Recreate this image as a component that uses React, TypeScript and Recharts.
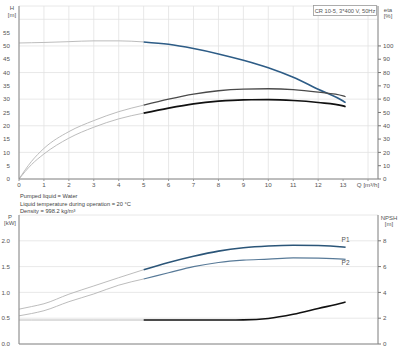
import React from "react";
import {
  ComposedChart,
  Line,
  XAxis,
  YAxis,
  CartesianGrid,
  LabelList,
} from "recharts";

// Flow points (m³/h) shared by every curve
const Q = [0, 0.5, 1, 2, 3, 4, 5, 6, 7, 8, 9, 10, 11, 12, 13, 13.1];
// Head H [m]
const H = [51.1, 51.2, 51.3, 51.6, 51.9, 51.9, 51.5, 50.6, 49.0, 47.0, 44.6, 41.8, 38.2, 33.7, 29.3, 28.7];
// Efficiencies [%]
const ETA1 = [0, 13.2, 23, 35.6, 43.9, 50.6, 55.5, 60, 63.8, 66.3, 67.5, 67.8, 67.2, 65.3, 62.5, 61.8];
const ETA2 = [0, 10.8, 18.8, 30.7, 38.9, 45.2, 49.5, 53.3, 56.5, 58.5, 59.5, 59.6, 59, 57.5, 55, 54.3];
// Power [kW]
const P1 = [0.675, 0.725, 0.78, 0.965, 1.125, 1.285, 1.44, 1.58, 1.7, 1.8, 1.865, 1.9, 1.915, 1.91, 1.88, 1.875];
const P2 = [0.546, 0.59, 0.645, 0.82, 0.97, 1.14, 1.26, 1.38, 1.5, 1.58, 1.625, 1.645, 1.67, 1.665, 1.645, 1.64];
// NPSH [m]
const NPSH = [1.86, 1.86, 1.86, 1.86, 1.86, 1.86, 1.86, 1.86, 1.86, 1.86, 1.87, 1.98, 2.3, 2.75, 3.2, 3.25];

const Q_TICKS = [0, 1, 2, 3, 4, 5, 6, 7, 8, 9, 10, 11, 12, 13, 14];
const H_TICKS = [0, 5, 10, 15, 20, 25, 30, 35, 40, 45, 50, 55, 60, 65];
const ETA_TICKS = [0, 10, 20, 30, 40, 50, 60, 70, 80, 90, 100];
const P_TICKS = [0, 0.5, 1, 1.5, 2, 2.5];
const NPSH_TICKS = [0, 2, 4, 6, 8];

const SPLIT = 5; // curves are only drawn in colour from here on

const split = (vals: number[]) => ({
  gray: Q.map((q, i) => (q <= SPLIT ? vals[i] : undefined)),
  col: Q.map((q, i) => (q >= SPLIT ? vals[i] : undefined)),
});

const s = { h: split(H), e1: split(ETA1), e2: split(ETA2), p1: split(P1), p2: split(P2), n: split(NPSH) };

const data = Q.map((q, i) => ({
  q,
  hGray: s.h.gray[i],
  hCol: s.h.col[i],
  e1Gray: s.e1.gray[i],
  e1Col: s.e1.col[i],
  e2Gray: s.e2.gray[i],
  e2Col: s.e2.col[i],
  p1Gray: s.p1.gray[i],
  p1Col: s.p1.col[i],
  p2Gray: s.p2.gray[i],
  p2Col: s.p2.col[i],
  nGray: s.n.gray[i],
  nCol: s.n.col[i],
}));

const FONT = "'Liberation Sans', Arial, sans-serif";
const TICK = { fill: "#555", fontSize: 6.2, fontFamily: FONT };
const AXIS = { stroke: "#888" };
const GRID = "#e2e2e2";
const GRAY = "#b4b4b4";
const LAST = Q.length - 1;

const endLabel = (text: string, dy: number) => (props: any) => {
  if (props.index !== LAST) return null;
  return (
    <text x={props.x} y={props.y + dy} fill="#555" fontSize={6.5} fontFamily={FONT} textAnchor="middle">
      {text}
    </text>
  );
};

const grayLine = (key: string, axis: string) => (
  <Line
    key={key}
    yAxisId={axis}
    dataKey={key}
    type="monotone"
    stroke={GRAY}
    strokeWidth={0.9}
    dot={false}
    isAnimationActive={false}
  />
);

export default function App() {
  return (
    <div style={{ position: "fixed", left: 0, top: 0, width: 400, height: 358, background: "#fff", fontFamily: FONT }}>
      {/* Q-H / efficiency */}
      <div style={{ position: "absolute", left: 0, top: 0 }}>
        <ComposedChart width={400} height={195} data={data} margin={{ top: 6, right: 0, bottom: 0, left: 0 }}>
          <CartesianGrid yAxisId="h" stroke={GRID} strokeWidth={0.8} />
          <XAxis
            dataKey="q"
            type="number"
            domain={[0, 14.4]}
            ticks={Q_TICKS}
            allowDataOverflow
            height={16}
            tick={TICK}
            tickSize={2}
            tickLine={{ stroke: "#999" }}
            axisLine={AXIS}
            tickFormatter={(v: number) => (v === 14 ? "Q [m³/h]" : String(v))}
          />
          <YAxis
            yAxisId="h"
            domain={[0, 65]}
            ticks={H_TICKS}
            width={19}
            tick={TICK}
            tickLine={false}
            tickMargin={3}
            axisLine={AXIS}
            tickFormatter={(v: number) => (v > 55 ? "" : String(v))}
          />
          <YAxis
            yAxisId="eta"
            orientation="right"
            domain={[0, 130]}
            ticks={ETA_TICKS}
            width={22}
            tick={TICK}
            tickSize={3}
            tickMargin={2}
            tickLine={{ stroke: "#777" }}
            axisLine={AXIS}
          />
          {grayLine("hGray", "h")}
          {grayLine("e1Gray", "eta")}
          {grayLine("e2Gray", "eta")}
          <Line yAxisId="h" dataKey="hCol" type="monotone" stroke="#2d5c86" strokeWidth={1.6} dot={false} isAnimationActive={false} />
          <Line yAxisId="eta" dataKey="e1Col" type="monotone" stroke="#4a4a4a" strokeWidth={1.3} dot={false} isAnimationActive={false} />
          <Line yAxisId="eta" dataKey="e2Col" type="monotone" stroke="#111" strokeWidth={1.7} dot={false} isAnimationActive={false} />
        </ComposedChart>
      </div>

      {/* Power / NPSH */}
      <div style={{ position: "absolute", left: 0, top: 200 }}>
        <ComposedChart width={400} height={158} data={data} margin={{ top: 15, right: 0, bottom: 0, left: 0 }}>
          <CartesianGrid yAxisId="p" stroke={GRID} strokeWidth={0.8} />
          <XAxis
            dataKey="q"
            type="number"
            domain={[0, 14.4]}
            ticks={Q_TICKS}
            allowDataOverflow
            height={14}
            tick={false}
            tickLine={false}
            axisLine={AXIS}
          />
          <YAxis
            yAxisId="p"
            domain={[0, 2.5]}
            ticks={P_TICKS}
            width={19}
            tick={TICK}
            tickLine={false}
            tickMargin={3}
            axisLine={AXIS}
            tickFormatter={(v: number) => (v > 2 ? "" : v.toFixed(1))}
          />
          <YAxis
            yAxisId="npsh"
            orientation="right"
            domain={[0, 10]}
            ticks={NPSH_TICKS}
            width={22}
            tick={TICK}
            tickSize={3}
            tickMargin={2}
            tickLine={{ stroke: "#777" }}
            axisLine={AXIS}
          />
          {grayLine("p1Gray", "p")}
          {grayLine("p2Gray", "p")}
          {grayLine("nGray", "npsh")}
          <Line yAxisId="p" dataKey="p1Col" type="monotone" stroke="#2b5578" strokeWidth={1.6} dot={false} isAnimationActive={false}>
            <LabelList dataKey="p1Col" content={endLabel("P1", -5)} />
          </Line>
          <Line yAxisId="p" dataKey="p2Col" type="monotone" stroke="#587a98" strokeWidth={1.2} dot={false} isAnimationActive={false}>
            <LabelList dataKey="p2Col" content={endLabel("P2", 6)} />
          </Line>
          <Line yAxisId="npsh" dataKey="nCol" type="monotone" stroke="#111" strokeWidth={1.6} dot={false} isAnimationActive={false} />
        </ComposedChart>
      </div>

      {/* axis captions and notes */}
      <svg width={400} height={358} style={{ position: "absolute", left: 0, top: 0, pointerEvents: "none" }}>
        <g fill="#555" fontSize={6} fontFamily={FONT}>
          <text x={12} y={9.5} textAnchor="middle">H</text>
          <text x={12} y={17} textAnchor="middle">[m]</text>
          <text x={388} y={12} textAnchor="middle">eta</text>
          <text x={388} y={18} textAnchor="middle">[%]</text>
          <text x={10} y={219} textAnchor="middle">P</text>
          <text x={10} y={225} textAnchor="middle">[kW]</text>
          <text x={389} y={220} textAnchor="middle">NPSH</text>
          <text x={389} y={226} textAnchor="middle">[m]</text>
        </g>
        <rect x={313.5} y={5.5} width={63} height={10} fill="#fff" stroke="#999" strokeWidth={0.8} />
        <text x={345} y={12.8} fill="#555" fontSize={5.7} fontFamily={FONT} textAnchor="middle">
          CR 10-5, 3*400 V, 50Hz
        </text>
        <g fill="#444" fontSize={5.7} fontFamily={FONT}>
          <text x={20} y={198}>Pumped liquid = Water</text>
          <text x={20} y={206}>Liquid temperature during operation = 20 °C</text>
          <text x={20} y={212.5}>Density = 998.2 kg/m³</text>
        </g>
      </svg>
    </div>
  );
}
